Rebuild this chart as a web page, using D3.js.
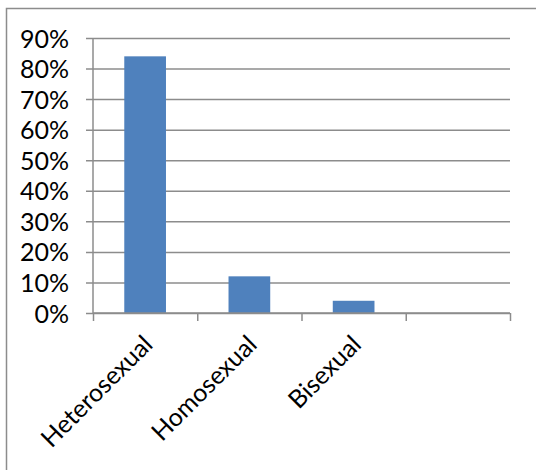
<!DOCTYPE html>
<html>
<head>
<meta charset="utf-8">
<script src="https://cdn.jsdelivr.net/npm/d3@7"></script>
<style>
  body { margin: 0; background: #fff; }
  svg text { font-family: "Lato", "Open Sans", sans-serif; }
</style>
</head>
<body>
<svg></svg>
<script>
// categories and values
const categories = ["Heterosexual", "Homosexual", "Bisexual", ""];
const values = [0.84, 0.12, 0.04, null];
const yTicks = [0, 0.1, 0.2, 0.3, 0.4, 0.5, 0.6, 0.7, 0.8, 0.9];

const W = 536, H = 470;
const margin = { top: 38, right: 26, bottom: 157, left: 93 };
const width = W - margin.left - margin.right;
const height = H - margin.top - margin.bottom;

const svg = d3.select("svg").attr("width", W).attr("height", H);

// outer chart border (runs off the right/bottom like the reference)
svg.append("rect")
  .attr("x", 6.5).attr("y", 8.5)
  .attr("width", 540).attr("height", 470)
  .attr("fill", "none")
  .attr("stroke", "#8c8c8c")
  .attr("stroke-width", 1.5);

const plot = svg.append("g")
  .attr("transform", `translate(${margin.left}, ${margin.top})`);

// one slot per category, boundaries get ticks
const xBand = d3.scaleLinear().domain([0, categories.length]).range([0, width]);
const y = d3.scaleLinear().domain([0, 0.9]).range([height, 0]);

// gridlines + y labels
const yAxis = plot.append("g")
  .call(d3.axisLeft(y).tickValues(yTicks).tickFormat(d3.format(".0%")).tickSize(7));
yAxis.attr("font-family", null).attr("font-size", null);
yAxis.select(".domain").remove();
yAxis.selectAll(".tick line").remove();
yAxis.selectAll(".tick").append("line")
  .attr("x1", -7).attr("x2", width)
  .attr("stroke", "#8c8c8c").attr("stroke-width", 1.5);
yAxis.selectAll(".tick text")
  .attr("x", -24)
  .attr("dy", "0.36em")
  .attr("fill", "#000")
  .style("font-size", "25px");

// y axis line
plot.append("line")
  .attr("x1", 0).attr("x2", 0).attr("y1", 0).attr("y2", height)
  .attr("stroke", "#8c8c8c").attr("stroke-width", 1.5);

// bars
plot.selectAll("rect.bar")
  .data(values.map((v, i) => ({ v, i })).filter(d => d.v != null))
  .join("rect")
  .attr("class", "bar")
  .attr("x", d => xBand(d.i) + xBand(1) * 0.3)
  .attr("width", xBand(1) * 0.4)
  .attr("y", d => y(d.v))
  .attr("height", d => height - y(d.v))
  .attr("fill", "#4f81bd");

// x axis with category boundary ticks
const xAxis = plot.append("g")
  .attr("transform", `translate(0, ${height})`)
  .call(d3.axisBottom(xBand).tickValues(d3.range(categories.length + 1)).tickSize(8).tickFormat(""));
xAxis.select(".domain").attr("stroke", "#8c8c8c").attr("stroke-width", 1.5).attr("d", `M0,0H${width}`);
xAxis.selectAll(".tick line").attr("stroke", "#8c8c8c").attr("stroke-width", 1.5);

// rotated category labels
plot.selectAll("text.cat")
  .data(categories)
  .join("text")
  .attr("class", "cat")
  .attr("text-anchor", "end")
  .attr("transform", (d, i) => `translate(${xBand(i + 0.5) + 9}, ${height + 33}) rotate(-45)`)
  .style("font-size", "25px")
  .attr("fill", "#000")
  .text(d => d);
</script>
</body>
</html>
